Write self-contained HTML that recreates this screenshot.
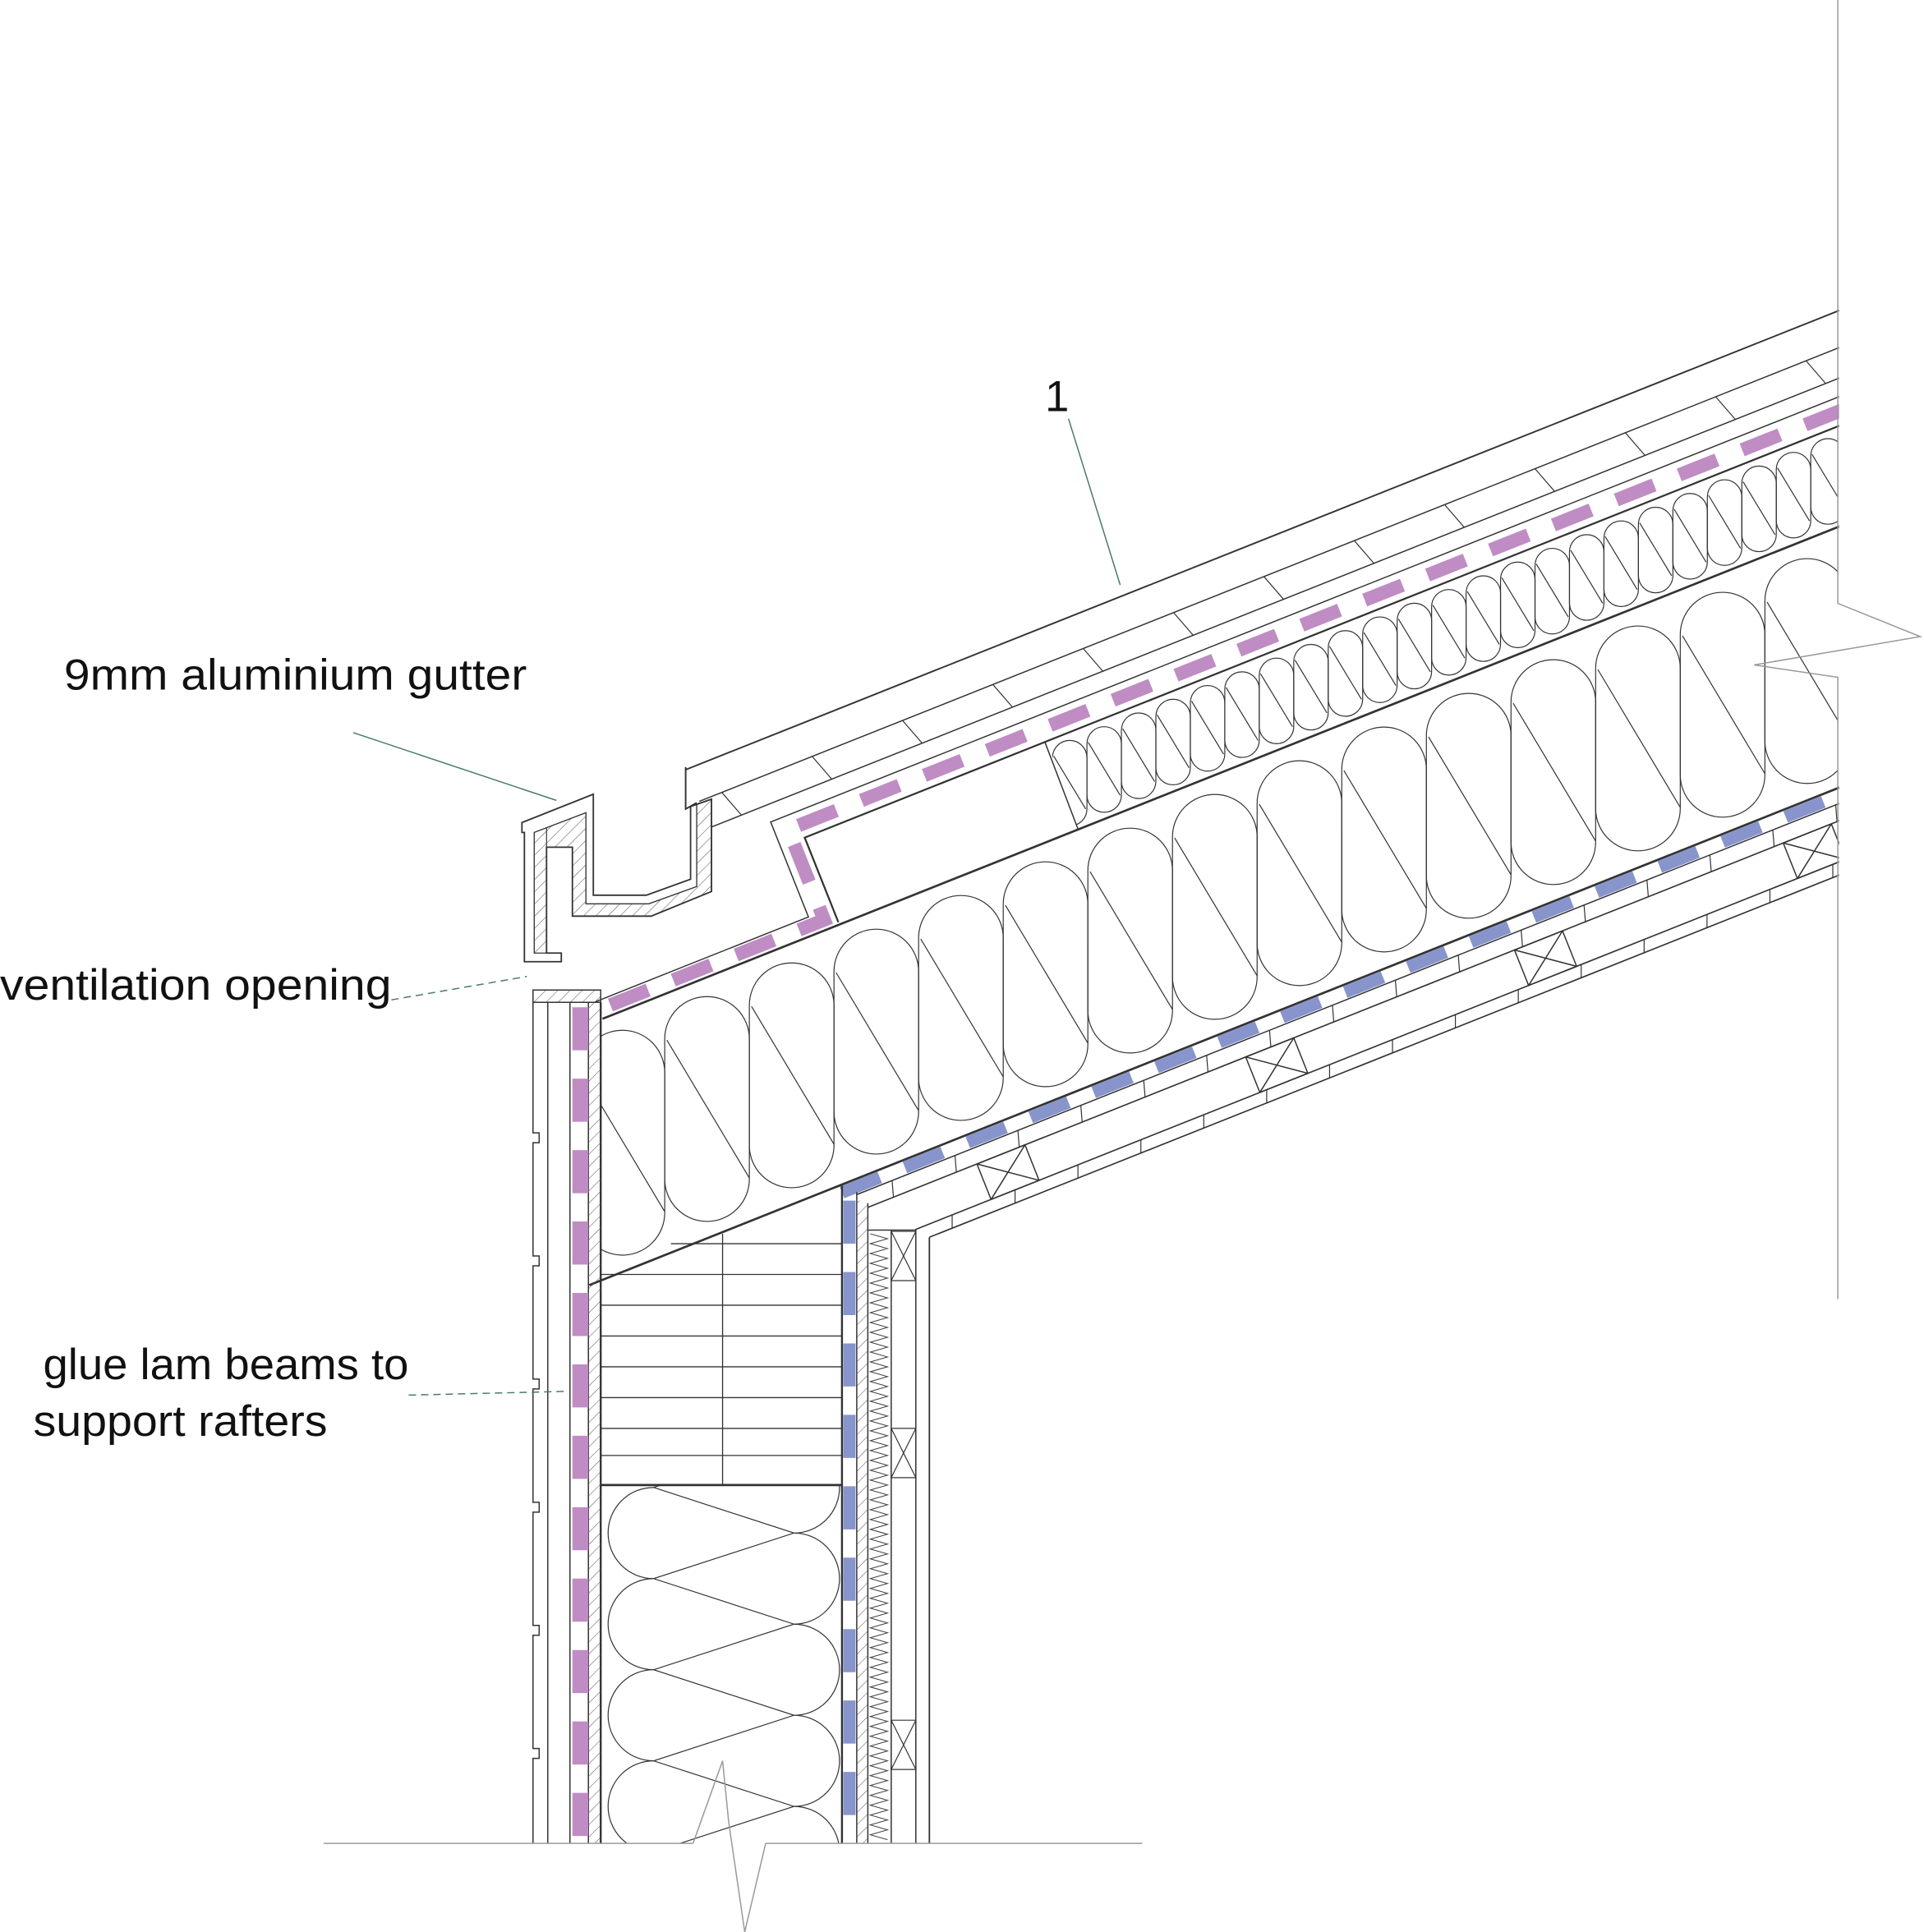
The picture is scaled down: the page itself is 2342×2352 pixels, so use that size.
<!DOCTYPE html>
<html><head><meta charset="utf-8"><style>
html,body{margin:0;padding:0;background:#fff}
svg{display:block}
text{font-family:"Liberation Sans",sans-serif;fill:#111}
</style></head><body>
<svg width="2342" height="2352" viewBox="0 0 1563 1569" preserveAspectRatio="none" xmlns="http://www.w3.org/2000/svg">
<defs>
<clipPath id="bigclip"><polygon points="488,1040 1493,640 1493,428 488,828"/></clipPath>
<clipPath id="smallclip"><polygon points="851,603 1493,348 1493,430 876,674"/></clipPath>
<clipPath id="lowins"><rect x="489" y="1206" width="194" height="291"/></clipPath>
<pattern id="hatch" width="7" height="7" patternUnits="userSpaceOnUse" patternTransform="rotate(45)"><line x1="0" y1="0" x2="0" y2="7" stroke="#555" stroke-width="0.7"/></pattern>
<g id="bs"><rect x="471.25" y="836.7" width="68.75" height="182.6" rx="34.4"/><line x1="473" y1="872" x2="540" y2="984"/></g>
<g id="ss"><rect x="855" y="601.3" width="28" height="69.5" rx="14"/><line x1="856" y1="614" x2="882" y2="657"/></g>
</defs>
<rect width="1563" height="1569" fill="#fff"/>

<!-- big insulation -->
<g clip-path="url(#bigclip)" stroke="#333" fill="none" stroke-width="0.8">
<use href="#bs"/><use href="#bs" transform="translate(68.75,-27.36)"/><use href="#bs" transform="translate(137.5,-54.72)"/><use href="#bs" transform="translate(206.25,-82.08)"/>
<use href="#bs" transform="translate(275,-109.44)"/><use href="#bs" transform="translate(343.75,-136.8)"/><use href="#bs" transform="translate(412.5,-164.16)"/><use href="#bs" transform="translate(481.25,-191.52)"/>
<use href="#bs" transform="translate(550,-218.88)"/><use href="#bs" transform="translate(618.75,-246.24)"/><use href="#bs" transform="translate(687.5,-273.6)"/><use href="#bs" transform="translate(756.25,-300.96)"/>
<use href="#bs" transform="translate(825,-328.32)"/><use href="#bs" transform="translate(893.75,-355.68)"/><use href="#bs" transform="translate(962.5,-383.04)"/><use href="#bs" transform="translate(1031.25,-410.4)"/>
</g>
<!-- small insulation -->
<g clip-path="url(#smallclip)" stroke="#333" fill="none" stroke-width="0.8">
<use href="#ss"/><use href="#ss" transform="translate(28,-11.14)"/><use href="#ss" transform="translate(56,-22.28)"/><use href="#ss" transform="translate(84,-33.42)"/>
<use href="#ss" transform="translate(112,-44.56)"/><use href="#ss" transform="translate(140,-55.7)"/><use href="#ss" transform="translate(168,-66.84)"/><use href="#ss" transform="translate(196,-77.98)"/>
<use href="#ss" transform="translate(224,-89.12)"/><use href="#ss" transform="translate(252,-100.26)"/><use href="#ss" transform="translate(280,-111.4)"/><use href="#ss" transform="translate(308,-122.54)"/>
<use href="#ss" transform="translate(336,-133.68)"/><use href="#ss" transform="translate(364,-144.82)"/><use href="#ss" transform="translate(392,-155.96)"/><use href="#ss" transform="translate(420,-167.1)"/>
<use href="#ss" transform="translate(448,-178.24)"/><use href="#ss" transform="translate(476,-189.38)"/><use href="#ss" transform="translate(504,-200.52)"/><use href="#ss" transform="translate(532,-211.66)"/>
<use href="#ss" transform="translate(560,-222.8)"/><use href="#ss" transform="translate(588,-233.94)"/><use href="#ss" transform="translate(616,-245.08)"/>
</g>
<line x1="849" y1="603" x2="876" y2="674" stroke="#333" stroke-width="1"/>

<!-- roof layers in rotated frame -->
<g transform="translate(488,1040) rotate(-21.7)" stroke="#333" fill="none">
  <line x1="217.6" y1="-360" x2="1300" y2="-360" stroke-width="1.3"/>
  <line x1="218.3" y1="-332" x2="1300" y2="-332" stroke-width="1"/>
  <line x1="220" y1="-309" x2="1300" y2="-309" stroke-width="1"/>
  <path d="M238,-332 l8,23 M317,-332 l8,23 M396,-332 l8,23 M475,-332 l8,23 M554,-332 l8,23 M633,-332 l8,23 M712,-332 l8,23 M791,-332 l8,23 M870,-332 l8,23 M949,-332 l8,23 M1028,-332 l8,23 M1107,-332 l8,23 M1186,-332 l8,23" stroke-width="0.8"/>
  <polyline points="80,-212 266,-212 266,-295 1300,-295" stroke-width="1"/>
  <polyline points="287,-199 287,-273 1300,-273" stroke-width="1.5"/>
  <polyline points="80,-205 277,-205 277,-284 1300,-284" stroke="#c08cc4" stroke-width="11" stroke-dasharray="33,22" stroke-dashoffset="-10"/>
  <line x1="80" y1="-197" x2="1300" y2="-197" stroke-width="1.8"/>
  <line x1="-10" y1="0" x2="1300" y2="0" stroke-width="1.8"/>
  <line x1="208.6" y1="6" x2="1300" y2="6" stroke="#8895cc" stroke-width="10" stroke-dasharray="33,22"/>
  <line x1="218.7" y1="12" x2="1300" y2="12" stroke-width="1"/>
  <line x1="223.6" y1="25" x2="1300" y2="25" stroke-width="1.1"/>
  <line x1="253" y1="56" x2="1300" y2="56" stroke-width="1.1"/>
  <line x1="261" y1="66" x2="1300" y2="66" stroke-width="1.1"/>
  <path d="M250,12 l-4,13 M305,12 l-4,13 M360,12 l-4,13 M415,12 l-4,13 M470,12 l-4,13 M525,12 l-4,13 M580,12 l-4,13 M635,12 l-4,13 M690,12 l-4,13 M745,12 l-4,13 M800,12 l-4,13 M855,12 l-4,13 M910,12 l-4,13 M965,12 l-4,13 M1020,12 l-4,13 M1075,12 l-4,13 M1130,12 l-4,13" stroke-width="0.8"/>
  <path d="M285,56 l-4,10 M340,56 l-4,10 M395,56 l-4,10 M450,56 l-4,10 M505,56 l-4,10 M560,56 l-4,10 M615,56 l-4,10 M670,56 l-4,10 M725,56 l-4,10 M780,56 l-4,10 M835,56 l-4,10 M890,56 l-4,10 M945,56 l-4,10 M1000,56 l-4,10 M1055,56 l-4,10 M1110,56 l-4,10 M1165,56 l-4,10" stroke-width="0.8"/>
  <path d="M319,25 h42 v31 h-42z M319,25 l42,31 M361,25 l-42,31 M554,25 h42 v31 h-42z M554,25 l42,31 M596,25 l-42,31 M789,25 h42 v31 h-42z M789,25 l42,31 M831,25 l-42,31 M1024,25 h42 v31 h-42z M1024,25 l42,31 M1066,25 l-42,31" stroke-width="1"/>
</g>
<rect x="1494" y="150" width="80" height="750" fill="#fff"/>
<!-- right boundary + break -->
<polyline points="1493,0 1493,490 1560,517 1425,540 1493,550 1493,1055" fill="none" stroke="#999" stroke-width="1"/>

<!-- fascia -->
<polyline points="557,623 557,657 566,652" fill="none" stroke="#333" stroke-width="1.3"/>

<!-- gutter -->
<path d="M424,668 L482,645 L482,727 L525,727 L561,714 L561,655 L578,649 L578,724 L529,744 L465,744 L465,688 L444,688 L444,774 L456,774 L456,781 L426,781 L426,676 L424,676 Z" fill="#fff" stroke="#333" stroke-width="1.2"/>
<path d="M434,676 L476,660 L476,734 L527,734 L566,720 L566,653 L578,649 L578,724 L529,744 L465,744 L465,688 L444,688 L444,774 L434,774 Z" fill="url(#hatch)" stroke="#333" stroke-width="0.9"/>
<line x1="444" y1="688" x2="444" y2="672" stroke="#333" stroke-width="0.8"/>
<rect x="433" y="804" width="55" height="10" fill="url(#hatch)" stroke="#333"/>

<!-- exterior wall -->
<g stroke="#333" fill="none" stroke-width="1">
<path d="M433,814 V920 h5 v8 h-5 V1020 h5 v8 h-5 V1120 h5 v8 h-5 V1220 h5 v8 h-5 V1320 h5 v8 h-5 V1420 h5 v8 h-5 V1497"/>
<line x1="445" y1="814" x2="445" y2="1497"/>
<line x1="463" y1="814" x2="463" y2="1497"/>
<line x1="478" y1="814" x2="478" y2="1497"/>
<line x1="488" y1="814" x2="488" y2="1497" stroke-width="1.6"/>
</g>
<rect x="478" y="814" width="10" height="683" fill="url(#hatch)"/>
<line x1="471.5" y1="818" x2="471.5" y2="1495" stroke="#c08cc4" stroke-width="13" stroke-dasharray="35,23"/>

<!-- glue lam -->
<g stroke="#333" fill="none" stroke-width="0.9">
<line x1="587" y1="1002" x2="587" y2="1206"/>
<path d="M545,1010 H684 M488,1035 H684 M488,1060 H684 M488,1085 H684 M488,1110 H684 M488,1135 H684 M488,1160 H684 M488,1182 H684"/>
<line x1="488" y1="1206" x2="684" y2="1206" stroke-width="1.8"/>
</g>
<!-- lower insulation batt -->
<g clip-path="url(#lowins)" stroke="#333" fill="none" stroke-width="0.8">
<path d="M531,1208 A37,37 0 0 0 531,1282 A37,37 0 0 0 531,1356 A37,37 0 0 0 531,1430 A37,37 0 0 0 531,1504 A37,37 0 0 0 531,1578"/>
<path d="M645,1171 A37,37 0 0 1 645,1245 A37,37 0 0 1 645,1319 A37,37 0 0 1 645,1393 A37,37 0 0 1 645,1467 A37,37 0 0 1 645,1541"/>
<polyline points="531,1208 645,1245 531,1282 645,1319 531,1356 645,1393 531,1430 645,1467 531,1504 645,1541"/>
<polyline points="645,1171 531,1208"/>
</g>

<!-- interior wall -->
<g stroke="#333" fill="none" stroke-width="1">
<line x1="684" y1="963" x2="684" y2="1497" stroke-width="1.6"/>
<line x1="696" y1="968" x2="696" y2="1497"/>
<line x1="705" y1="977" x2="705" y2="1497"/>
<line x1="724" y1="999" x2="724" y2="1497"/>
<line x1="744" y1="998" x2="744" y2="1497"/>
<line x1="755" y1="1005" x2="755" y2="1497" stroke-width="1.2"/>
<line x1="705" y1="999" x2="744" y2="999"/>
<path d="M724,1000 h20 v40 h-20z M724,1000 l20,40 M744,1000 l-20,40 M724,1160 h20 v40 h-20z M724,1160 l20,40 M744,1160 l-20,40 M724,1397 h20 v40 h-20z M724,1397 l20,40 M744,1397 l-20,40" stroke-width="0.8"/>
</g>
<rect x="696" y="975" width="9" height="522" fill="url(#hatch)"/>
<line x1="690" y1="975" x2="690" y2="1495" stroke="#8895cc" stroke-width="10" stroke-dasharray="35,23"/>
<g stroke="#444" stroke-width="0.7" fill="none">
<path d="M707,1002 L721,1006 L707,1010 L721,1014 L707,1018 L721,1022 L707,1026 L721,1030 L707,1034 L721,1038 L707,1042 L721,1046 L707,1050 L721,1054 L707,1058 L721,1062 L707,1066 L721,1070 L707,1074 L721,1078 L707,1082 L721,1086 L707,1090 L721,1094 L707,1098 L721,1102 L707,1106 L721,1110 L707,1114 L721,1118 L707,1122 L721,1126 L707,1130 L721,1134 L707,1138 L721,1142 L707,1146 L721,1150 L707,1154 L721,1158 L707,1162 L721,1166 L707,1170 L721,1174 L707,1178 L721,1182 L707,1186 L721,1190 L707,1194 L721,1198 L707,1202 L721,1206 L707,1210 L721,1214 L707,1218 L721,1222 L707,1226 L721,1230 L707,1234 L721,1238 L707,1242 L721,1246 L707,1250 L721,1254 L707,1258 L721,1262 L707,1266 L721,1270 L707,1274 L721,1278 L707,1282 L721,1286 L707,1290 L721,1294 L707,1298 L721,1302 L707,1306 L721,1310 L707,1314 L721,1318 L707,1322 L721,1326 L707,1330 L721,1334 L707,1338 L721,1342 L707,1346 L721,1350 L707,1354 L721,1358 L707,1362 L721,1366 L707,1370 L721,1374 L707,1378 L721,1382 L707,1386 L721,1390 L707,1394 L721,1398 L707,1402 L721,1406 L707,1410 L721,1414 L707,1418 L721,1422 L707,1426 L721,1430 L707,1434 L721,1438 L707,1442 L721,1446 L707,1450 L721,1454 L707,1458 L721,1462 L707,1466 L721,1470 L707,1474 L721,1478 L707,1482 L721,1486 L707,1490 L721,1494"/>
</g>

<!-- ground + break -->
<line x1="263" y1="1497" x2="563" y2="1497" stroke="#999" stroke-width="1"/>
<line x1="622" y1="1497" x2="928" y2="1497" stroke="#999" stroke-width="1"/>
<polyline points="563,1497 587,1430 592,1480 605,1569 622,1497" fill="none" stroke="#999" stroke-width="1"/>

<!-- leaders -->
<line x1="287" y1="595" x2="452" y2="650" stroke="#4a7a6a" stroke-width="1"/>
<line x1="868" y1="340" x2="910" y2="475" stroke="#4a7a6a" stroke-width="1"/>
<line x1="318" y1="812" x2="428" y2="793" stroke="#4a7a6a" stroke-width="1" stroke-dasharray="6,4"/>
<line x1="332" y1="1133" x2="458" y2="1130" stroke="#4a7a6a" stroke-width="1" stroke-dasharray="6,4"/>

<!-- labels -->
<text x="52" y="560" font-size="35" textLength="376" lengthAdjust="spacingAndGlyphs">9mm aluminium gutter</text>
<text x="849" y="334" font-size="35">1</text>
<text x="0" y="812" font-size="35" textLength="318" lengthAdjust="spacingAndGlyphs">ventilation opening</text>
<text x="35" y="1120" font-size="35" textLength="297" lengthAdjust="spacingAndGlyphs">glue lam beams to</text>
<text x="27" y="1166" font-size="35" textLength="239" lengthAdjust="spacingAndGlyphs">support rafters</text>
</svg>
</body></html>
